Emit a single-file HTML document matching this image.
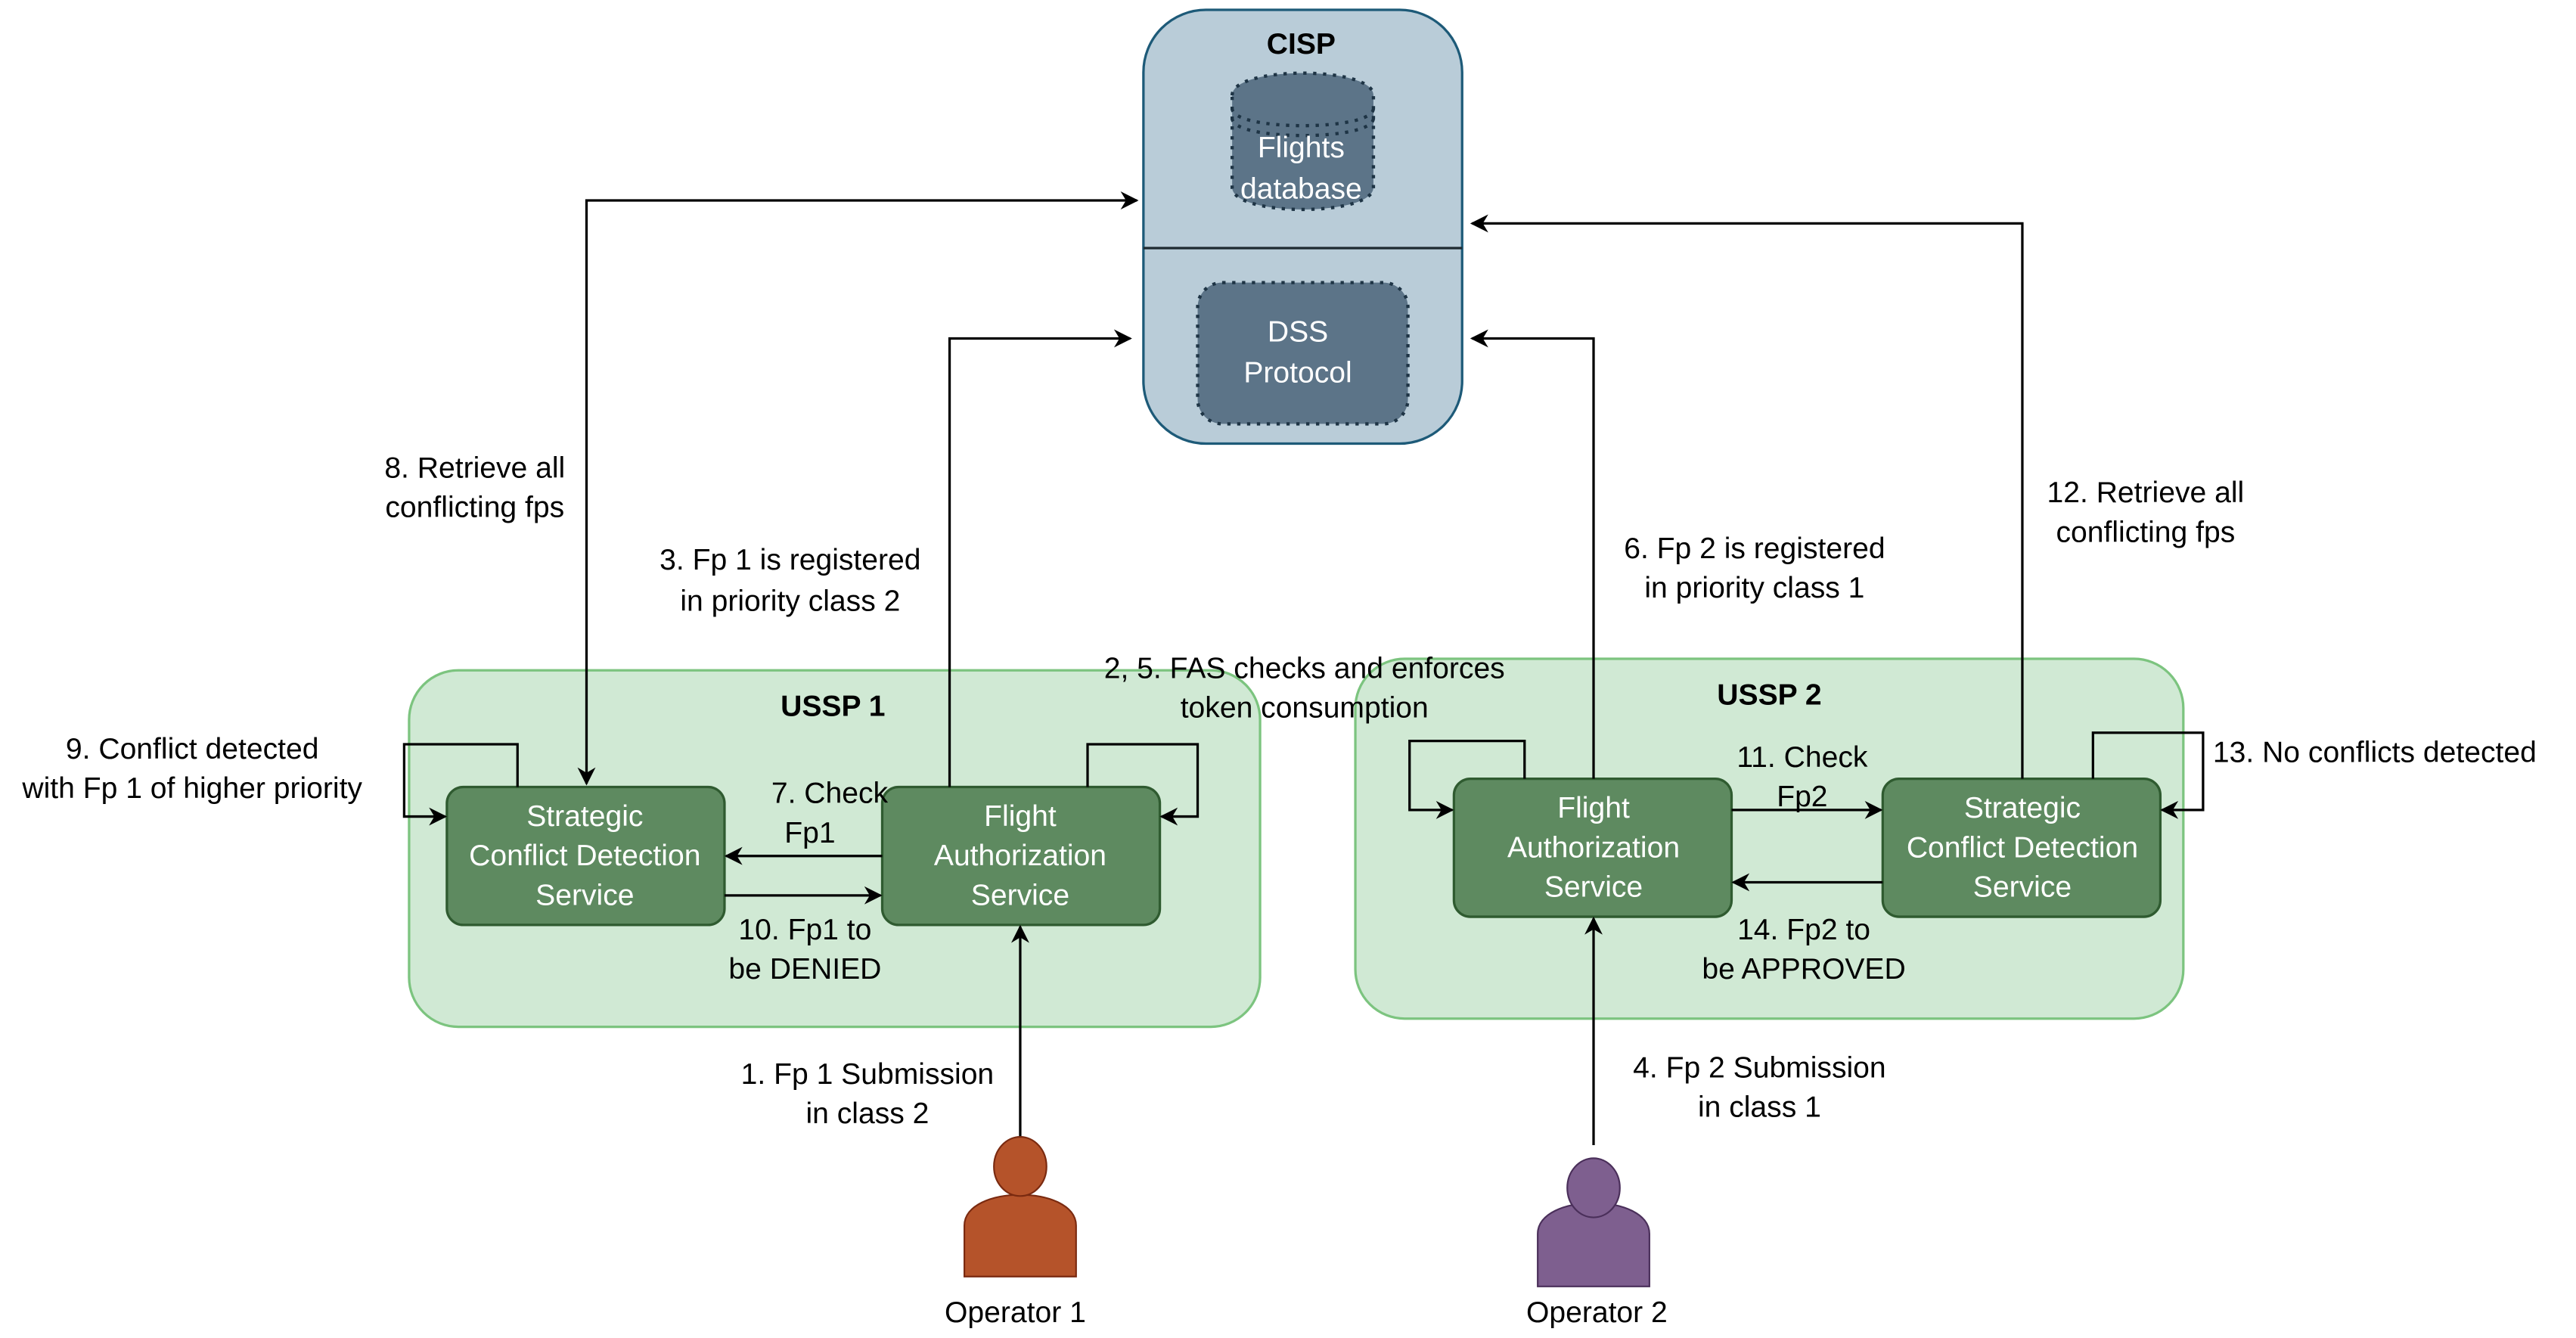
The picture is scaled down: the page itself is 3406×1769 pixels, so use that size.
<!DOCTYPE html>
<html><head><meta charset="utf-8"><style>
html,body{margin:0;padding:0;background:#fff;}
svg{display:block;}
text{font-family:"Liberation Sans",Arial,sans-serif;font-size:18px;fill:#000;}
.w{fill:#fff;}
.b{font-weight:bold;}
</style></head><body>
<svg width="3406" height="1769" viewBox="0 0 1568 814.4" xmlns="http://www.w3.org/2000/svg">
<defs>
<marker id="as" viewBox="0 0 10 10" refX="9" refY="5" markerWidth="11" markerHeight="11" orient="auto-start-reverse" markerUnits="userSpaceOnUse">
<path d="M0,0 L10,5 L0,10 L3,5 Z" fill="#000"/>
</marker>
</defs>

<!-- CISP -->
<rect x="696" y="6" width="194" height="264" rx="38" fill="#b9ccd8" stroke="#1d5a78" stroke-width="1.5"/>
<line x1="696" y1="151" x2="890" y2="151" stroke="#1e2a30" stroke-width="1.5"/>
<text x="792" y="27" text-anchor="middle" dominant-baseline="central" class="b">CISP</text>
<path d="M750,58 C750,40 836,40 836,58 L836,114 C836,132 750,132 750,114 Z" fill="#5c7488" stroke="#1e3445" stroke-width="2" stroke-dasharray="2,4"/>
<path d="M750,66 C750,80 836,80 836,66" fill="none" stroke="#1e3445" stroke-width="2" stroke-dasharray="2,4"/>
<path d="M750,72 C750,86 836,86 836,72" fill="none" stroke="#1e3445" stroke-width="2" stroke-dasharray="2,4"/>
<text x="792" y="90" text-anchor="middle" dominant-baseline="central" class="w">Flights</text>
<text x="792" y="115" text-anchor="middle" dominant-baseline="central" class="w">database</text>
<rect x="729" y="172" width="128" height="86" rx="15" fill="#5c7488" stroke="#1e3445" stroke-width="2" stroke-dasharray="2,4"/>
<text x="790" y="202" text-anchor="middle" dominant-baseline="central" class="w">DSS</text>
<text x="790" y="227" text-anchor="middle" dominant-baseline="central" class="w">Protocol</text>

<!-- USSP 1 -->
<rect x="249" y="408" width="518" height="217" rx="30" fill="#d0e9d4" stroke="#7cc47f" stroke-width="1.5"/>
<text x="507" y="430" text-anchor="middle" dominant-baseline="central" class="b">USSP 1</text>
<rect x="272" y="479" width="169" height="84" rx="10" fill="#5e8a60" stroke="#2f5b30" stroke-width="1.5"/>
<text x="356" y="497" text-anchor="middle" dominant-baseline="central" class="w">Strategic</text>
<text x="356" y="521" text-anchor="middle" dominant-baseline="central" class="w">Conflict Detection</text>
<text x="356" y="545" text-anchor="middle" dominant-baseline="central" class="w">Service</text>
<rect x="537" y="479" width="169" height="84" rx="10" fill="#5e8a60" stroke="#2f5b30" stroke-width="1.5"/>
<text x="621" y="497" text-anchor="middle" dominant-baseline="central" class="w">Flight</text>
<text x="621" y="521" text-anchor="middle" dominant-baseline="central" class="w">Authorization</text>
<text x="621" y="545" text-anchor="middle" dominant-baseline="central" class="w">Service</text>

<!-- USSP 2 -->
<rect x="825" y="401" width="504" height="219" rx="30" fill="#d0e9d4" stroke="#7cc47f" stroke-width="1.5"/>
<text x="1077" y="423" text-anchor="middle" dominant-baseline="central" class="b">USSP 2</text>
<rect x="885" y="474" width="169" height="84" rx="10" fill="#5e8a60" stroke="#2f5b30" stroke-width="1.5"/>
<text x="970" y="492" text-anchor="middle" dominant-baseline="central" class="w">Flight</text>
<text x="970" y="516" text-anchor="middle" dominant-baseline="central" class="w">Authorization</text>
<text x="970" y="540" text-anchor="middle" dominant-baseline="central" class="w">Service</text>
<rect x="1146" y="474" width="169" height="84" rx="10" fill="#5e8a60" stroke="#2f5b30" stroke-width="1.5"/>
<text x="1231" y="492" text-anchor="middle" dominant-baseline="central" class="w">Strategic</text>
<text x="1231" y="516" text-anchor="middle" dominant-baseline="central" class="w">Conflict Detection</text>
<text x="1231" y="540" text-anchor="middle" dominant-baseline="central" class="w">Service</text>

<!-- connectors -->
<g fill="none" stroke="#000" stroke-width="1.5">
<path d="M357,477 L357,122 L692,122" marker-start="url(#as)" marker-end="url(#as)"/>
<path d="M578,479 L578,206 L688,206" marker-end="url(#as)"/>
<path d="M970,474 L970,206 L896,206" marker-end="url(#as)"/>
<path d="M1231,474 L1231,136 L896,136" marker-end="url(#as)"/>
<path d="M315,479 L315,453 L246,453 L246,497 L271,497" marker-end="url(#as)"/>
<path d="M662,479 L662,453 L729,453 L729,497 L707,497" marker-end="url(#as)"/>
<path d="M537,521 L442,521" marker-end="url(#as)"/>
<path d="M441,545 L536,545" marker-end="url(#as)"/>
<path d="M928,474 L928,451 L858,451 L858,493 L884,493" marker-end="url(#as)"/>
<path d="M1274,474 L1274,446 L1341,446 L1341,493 L1316,493" marker-end="url(#as)"/>
<path d="M1054,493 L1145,493" marker-end="url(#as)"/>
<path d="M1146,537 L1055,537" marker-end="url(#as)"/>
<path d="M621,692 L621,564" marker-end="url(#as)"/>
<path d="M970,697 L970,559" marker-end="url(#as)"/>
</g>

<!-- labels -->
<g text-anchor="middle" dominant-baseline="central">
<text x="505" y="483">7. Check</text><text x="493" y="507">Fp1</text>
<text x="490" y="566">10. Fp1 to</text><text x="490" y="590">be DENIED</text>
<text x="117" y="456">9. Conflict detected</text><text x="117" y="480">with Fp 1 of higher priority</text>
<text x="289" y="285">8. Retrieve all</text><text x="289" y="309">conflicting fps</text>
<text x="481" y="341">3. Fp 1 is registered</text><text x="481" y="366">in priority class 2</text>
<text x="794" y="407">2, 5. FAS checks and enforces</text><text x="794" y="431">token consumption</text>
<text x="528" y="654">1. Fp 1 Submission</text><text x="528" y="678">in class 2</text>
<text x="1097" y="461">11. Check</text><text x="1097" y="485">Fp2</text>
<text x="1098" y="566">14. Fp2 to</text><text x="1098" y="590">be APPROVED</text>
<text x="1306" y="300">12. Retrieve all</text><text x="1306" y="324">conflicting fps</text>
<text x="1068" y="334">6. Fp 2 is registered</text><text x="1068" y="358">in priority class 1</text>
<text x="1071" y="650">4. Fp 2 Submission</text><text x="1071" y="674">in class 1</text>
<text x="618" y="799">Operator 1</text>
<text x="972" y="799">Operator 2</text>
</g>
<text x="1347" y="458" dominant-baseline="central">13. No conflicts detected</text>

<!-- operators -->
<path d="M587,777 L587,746 C587,721 655,721 655,746 L655,777 Z" fill="#b5532a" stroke="#7a2a10" stroke-width="1"/>
<ellipse cx="621" cy="710" rx="16" ry="18" fill="#b5532a" stroke="#7a2a10" stroke-width="1"/>
<path d="M936,783 L936,751 C936,726 1004,726 1004,751 L1004,783 Z" fill="#7e5f8f" stroke="#4a2f5a" stroke-width="1"/>
<ellipse cx="970" cy="723" rx="16" ry="18" fill="#7e5f8f" stroke="#4a2f5a" stroke-width="1"/>
</svg>
</body></html>
